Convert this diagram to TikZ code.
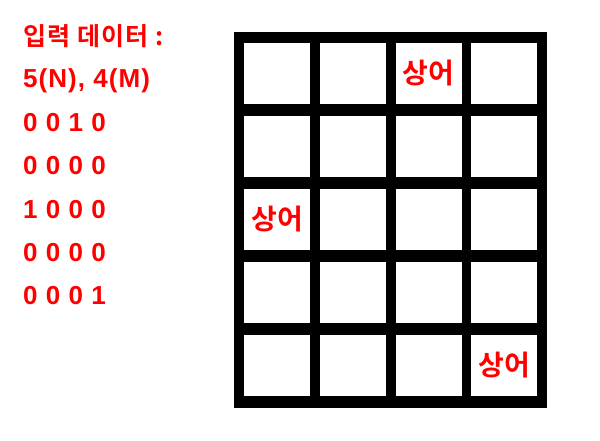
\documentclass[tikz,border=0pt]{standalone}
\usepackage{fontspec}
\setmainfont{Liberation Sans}[LetterSpace=4]
\newfontfamily\kr{Noto Sans CJK KR}[BoldFont={Noto Sans CJK KR Bold}]
\usepackage{tikz}

\begin{document}
\begin{tikzpicture}
[x=1pt,y=-1pt,
board/.style={rectangle,fill=black,minimum width=313pt,minimum height=376pt,inner sep=0pt},
cell/.style={rectangle,fill=white,minimum width=66pt,minimum height=61pt,inner sep=0pt,text=red,font=\kr\bfseries\fontsize{28}{28}\selectfont},
inp/.style={anchor=base west,inner sep=0pt,text=red,font=\bfseries\fontsize{26}{30}\selectfont},
inpk/.style={inp,font=\kr\bfseries\fontsize{25}{28}\selectfont\addfontfeature{LetterSpace=5}}]
\useasboundingbox (0,0) rectangle (600,440);
% input data
\node at (23,45) [inpk] (t0) {입력 데이터 :};
\node at (23,87) [inp] (t1) {5(N), 4(M)};
\node at (23,131) [inp] (t2) {0 0 1 0};
\node at (23,174) [inp] (t3) {0 0 0 0};
\node at (23,218) [inp] (t4) {1 0 0 0};
\node at (23,261) [inp] (t5) {0 0 0 0};
\node at (23,304) [inp] (t6) {0 0 0 1};
% board
\node at (390.5,220) [board] (board) {};
\node at (277,73) [cell] (a1) {};
\node at (353,73) [cell] (a2) {};
\node at (428.5,73) [cell] (a3) {상어};
\node at (504,73) [cell] (a4) {};
\node at (277,146) [cell] (b1) {};
\node at (353,146) [cell] (b2) {};
\node at (428.5,146) [cell] (b3) {};
\node at (504,146) [cell] (b4) {};
\node at (277,219.5) [cell] (c1) {상어};
\node at (353,219.5) [cell] (c2) {};
\node at (428.5,219.5) [cell] (c3) {};
\node at (504,219.5) [cell] (c4) {};
\node at (277,292.5) [cell] (d1) {};
\node at (353,292.5) [cell] (d2) {};
\node at (428.5,292.5) [cell] (d3) {};
\node at (504,292.5) [cell] (d4) {};
\node at (277,365.5) [cell] (e1) {};
\node at (353,365.5) [cell] (e2) {};
\node at (428.5,365.5) [cell] (e3) {};
\node at (504,365.5) [cell] (e4) {상어};
\end{tikzpicture}
\end{document}
